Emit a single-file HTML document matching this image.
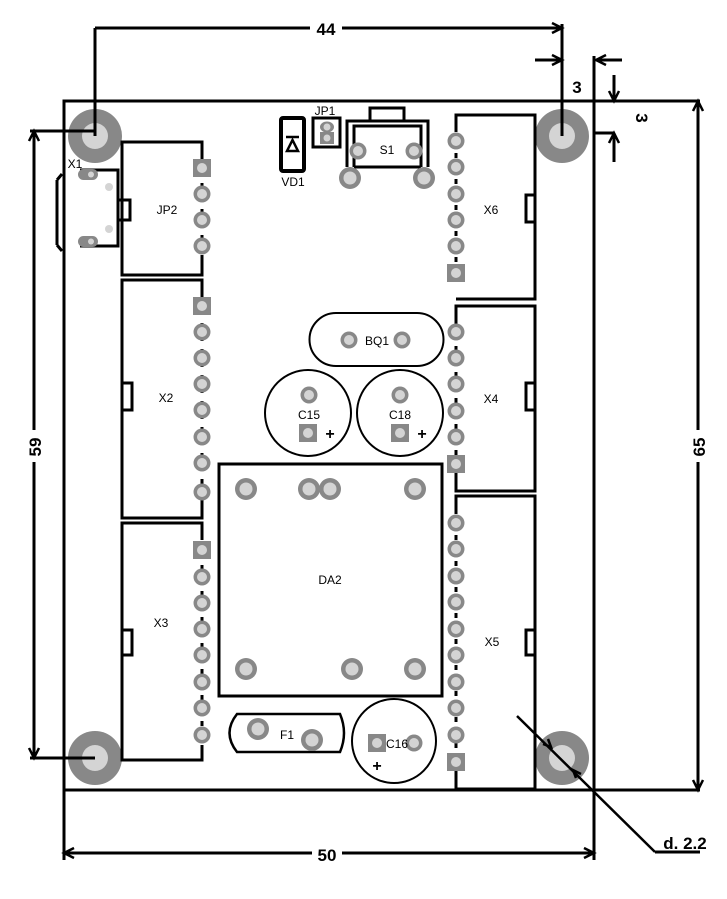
<!DOCTYPE html>
<html><head><meta charset="utf-8"><style>
html,body{margin:0;padding:0;background:#fff;}
svg{display:block;}
text{font-family:"Liberation Sans",sans-serif;}
</style></head><body>
<svg width="727" height="899" viewBox="0 0 727 899" xmlns="http://www.w3.org/2000/svg">
<defs>
<g id="p"><circle r="8.5" fill="#888"/><circle r="5" fill="#d4d4d4"/></g>
<g id="s"><rect x="-9" y="-9" width="18" height="18" fill="#888"/><circle r="5" fill="#d4d4d4"/></g>
<g id="b"><circle r="11" fill="#888"/><circle r="6.5" fill="#d4d4d4"/></g>
<g id="h"><circle r="27" fill="#888"/><circle r="13" fill="#d4d4d4"/></g>
</defs>
<rect width="727" height="899" fill="#fff"/>
<!-- mounting holes -->
<use href="#h" x="95" y="136"/><use href="#h" x="562" y="136"/>
<use href="#h" x="95" y="758"/><use href="#h" x="562" y="758"/>
<g stroke="#000" stroke-width="3" fill="none">
<!-- board -->
<rect x="64" y="101" width="530" height="689"/>
<line x1="594" y1="101" x2="700" y2="101"/>
<line x1="594" y1="790" x2="700" y2="790"/>
<!-- dim 44 -->
<line x1="95" y1="28" x2="310" y2="28"/><line x1="342" y1="28" x2="562" y2="28"/>
<line x1="95" y1="28" x2="95" y2="136"/><line x1="562" y1="24" x2="562" y2="136"/>
<!-- dim 59 -->
<line x1="34" y1="131" x2="34" y2="430"/><line x1="34" y1="462" x2="34" y2="758"/>
<line x1="30" y1="131" x2="95" y2="131"/><line x1="30" y1="758" x2="95" y2="758"/>
<!-- dim 65 -->
<line x1="698" y1="101" x2="698" y2="430"/><line x1="698" y1="462" x2="698" y2="790"/>
<!-- dim 50 -->
<line x1="64" y1="790" x2="64" y2="860"/><line x1="594" y1="56" x2="594" y2="860"/>
<line x1="64" y1="853" x2="312" y2="853"/><line x1="342" y1="853" x2="594" y2="853"/>
<!-- 3 dims -->
<line x1="535" y1="60" x2="562" y2="60"/><line x1="596" y1="60" x2="622" y2="60"/>
<line x1="614" y1="75" x2="614" y2="101"/><line x1="614" y1="133" x2="614" y2="162"/>
<line x1="594" y1="133" x2="614" y2="133"/>
<!-- leader -->
<line x1="517" y1="716" x2="655" y2="852" stroke-width="2.5"/><line x1="655" y1="852" x2="700" y2="852"/>
</g>
<!-- arrowheads -->
<g fill="none" stroke="#000" stroke-width="2.5">
<polyline points="552,23 562,28 552,33"/>
<polyline points="552,55 562,60 552,65"/>
<polyline points="606,55 596,60 606,65"/>
<polyline points="609,91 614,101 619,91"/>
<polyline points="609,143 614,133 619,143"/>
<polyline points="29,141 34,131 39,141"/>
<polyline points="29,748 34,758 39,748"/>
<polyline points="693,111 698,101 703,111"/>
<polyline points="693,780 698,790 703,780"/>
<polyline points="74,848 64,853 74,858"/>
<polyline points="584,848 594,853 584,858"/>
<polyline points="543,744 551,747 548,739"/>
<polyline points="581,774 573,770 576,778"/>
</g>
<g font-weight="bold" font-size="17" text-anchor="middle">
<text x="326" y="35">44</text>
<text x="327" y="861">50</text>
<text x="577" y="93">3</text>
<text transform="translate(636,118) rotate(90)">3</text>
<text transform="translate(41,447) rotate(-90)">59</text>
<text transform="translate(705,447) rotate(-90)">65</text>
<text x="685" y="849">d. 2.2</text>
</g>
<!-- components outlines -->
<g stroke="#000" stroke-width="3" fill="none">
<!-- X1 -->
<path d="M57,180 V245 M80,170 H118 V246 H80 M118,200 H130 V220 H118"/>
<path d="M57,180 L62,174 M57,245 L62,251"/>
<!-- JP2 -->
<path d="M202,160 V142 H122 V275 H202 V255"/>
<!-- X2 -->
<path d="M202,298 V280 H122 V518 H202 V500 M122,383 H132 V410 H122"/>
<!-- X3 -->
<path d="M202,540 V523 H122 V760 H202 V745 M122,630 H132 V655 H122"/>
<!-- X6 -->
<path d="M456,132 V115 H535 V299 H456 M535,195 H526 V222 H535"/>
<!-- X4 -->
<path d="M456,324 V306 H535 V491 H456 V472 M535,383 H526 V410 H535"/>
<!-- X5 -->
<path d="M456,514 V496 H535 V789 H456 V770 M535,630 H526 V655 H535"/>
<!-- VD1 -->
<rect x="281" y="118" width="23" height="53" rx="2" stroke-width="4"/>
<!-- JP1 -->
<rect x="313" y="118" width="27" height="29"/>
<!-- S1 -->
<path d="M347,167 V121 H428 V167 M354,167 V126 H421 V167 M354,167 H421 M370,121 V108 H404 V121"/>
<!-- DA2 -->
<rect x="219" y="464" width="223" height="232"/>
</g>
<g stroke="#000" stroke-width="2" fill="none">
<path d="M336,313 H417 A26.5,26.5 0 0 1 417,366 H336 A26.5,26.5 0 0 1 336,313 Z"/>
<circle cx="308" cy="413" r="43"/>
<circle cx="400" cy="413" r="43"/>
<circle cx="394" cy="741" r="42"/>
<path d="M237,714 H340 Q348,733 340,752 H237 Q222,733 237,714 Z" stroke-width="2.5"/>
</g>
<!-- diode symbol -->
<g stroke="#000" stroke-width="2.5" fill="none"><line x1="286" y1="137" x2="299" y2="137"/><polygon points="287,151 298,151 292.5,140"/></g>
<!-- connector dashes -->
<g stroke="#000" stroke-width="3" stroke-dasharray="5,8">
<line x1="202" y1="170" x2="202" y2="250"/>
<line x1="202" y1="310" x2="202" y2="494"/>
<line x1="202" y1="552" x2="202" y2="740"/>
<line x1="456" y1="140" x2="456" y2="275"/>
<line x1="456" y1="333" x2="456" y2="465"/>
<line x1="456" y1="522" x2="456" y2="763"/>
</g>
<!-- pads -->
<use href="#s" x="202" y="168"/><use href="#p" x="202" y="194"/><use href="#p" x="202" y="220"/><use href="#p" x="202" y="246"/>
<use href="#s" x="202" y="306"/><use href="#p" x="202" y="332"/><use href="#p" x="202" y="358"/><use href="#p" x="202" y="384"/><use href="#p" x="202" y="410"/><use href="#p" x="202" y="437"/><use href="#p" x="202" y="463"/><use href="#p" x="202" y="492"/>
<use href="#s" x="202" y="550"/><use href="#p" x="202" y="577"/><use href="#p" x="202" y="603"/><use href="#p" x="202" y="629"/><use href="#p" x="202" y="655"/><use href="#p" x="202" y="682"/><use href="#p" x="202" y="708"/><use href="#p" x="202" y="735"/>
<use href="#p" x="456" y="141"/><use href="#p" x="456" y="167"/><use href="#p" x="456" y="194"/><use href="#p" x="456" y="220"/><use href="#p" x="456" y="246"/><use href="#s" x="456" y="273"/>
<use href="#p" x="456" y="332"/><use href="#p" x="456" y="358"/><use href="#p" x="456" y="384"/><use href="#p" x="456" y="411"/><use href="#p" x="456" y="437"/><use href="#s" x="456" y="464"/>
<use href="#p" x="456" y="523"/><use href="#p" x="456" y="549"/><use href="#p" x="456" y="576"/><use href="#p" x="456" y="602"/><use href="#p" x="456" y="629"/><use href="#p" x="456" y="655"/><use href="#p" x="456" y="682"/><use href="#p" x="456" y="708"/><use href="#p" x="456" y="735"/><use href="#s" x="456" y="762"/>
<!-- JP1 pads -->
<ellipse cx="327" cy="127" rx="7" ry="5.5" fill="#888"/><circle cx="327" cy="127" r="3.5" fill="#d4d4d4"/>
<rect x="320" y="132" width="14" height="12" fill="#888"/><circle cx="327" cy="138" r="3.5" fill="#d4d4d4"/>
<!-- S1 pads -->
<use href="#p" x="358" y="151"/><use href="#p" x="414" y="151"/>
<use href="#b" x="350" y="178"/><use href="#b" x="424" y="178"/>
<!-- X1 pads -->
<rect x="78" y="169" width="20" height="11" rx="5.5" fill="#888"/><circle cx="91" cy="174.5" r="3" fill="#d4d4d4"/>
<rect x="78" y="236" width="20" height="11" rx="5.5" fill="#888"/><circle cx="91" cy="241.5" r="3" fill="#d4d4d4"/>
<circle cx="109" cy="187" r="4" fill="#d4d4d4"/><circle cx="109" cy="229" r="4" fill="#d4d4d4"/>
<!-- BQ1, caps -->
<use href="#p" x="349" y="340"/><use href="#p" x="402" y="340"/>
<use href="#p" x="309" y="395"/><use href="#s" x="308" y="433"/>
<use href="#p" x="400" y="395"/><use href="#s" x="400" y="433"/>
<use href="#s" x="377" y="743"/><use href="#p" x="414" y="743"/>
<use href="#b" x="258" y="729"/><use href="#b" x="312" y="740"/>
<!-- DA2 pads -->
<use href="#b" x="246" y="489"/><use href="#b" x="309" y="489"/><use href="#b" x="330" y="489"/><use href="#b" x="415" y="489"/>
<use href="#b" x="246" y="669"/><use href="#b" x="352" y="669"/><use href="#b" x="415" y="669"/>
<!-- plus signs -->
<g font-weight="bold" font-size="16" text-anchor="middle">
<text x="330" y="439">+</text><text x="422" y="439">+</text><text x="377" y="771">+</text>
</g>
<!-- labels -->
<g font-size="12" text-anchor="middle">
<text x="75" y="168">X1</text>
<text x="167" y="214">JP2</text>
<text x="325" y="115">JP1</text>
<text x="293" y="186">VD1</text>
<text x="387" y="154">S1</text>
<text x="491" y="214">X6</text>
<text x="377" y="345">BQ1</text>
<text x="309" y="419">C15</text>
<text x="400" y="419">C18</text>
<text x="166" y="402">X2</text>
<text x="491" y="403">X4</text>
<text x="330" y="584">DA2</text>
<text x="161" y="627">X3</text>
<text x="492" y="646">X5</text>
<text x="287" y="739">F1</text>
<text x="397" y="748">C16</text>
</g>
</svg>
</body></html>
